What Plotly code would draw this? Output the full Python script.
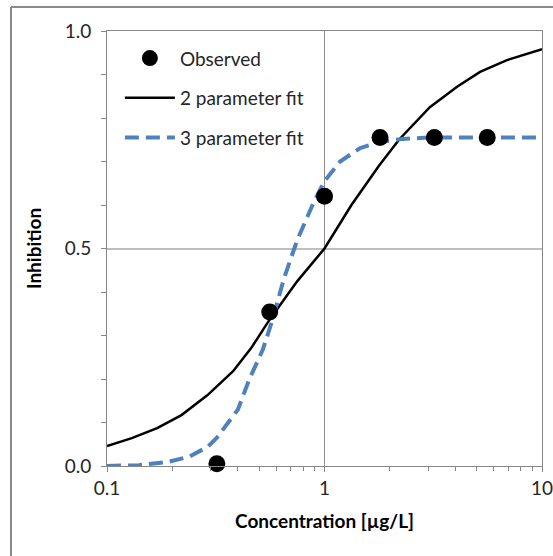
import plotly.graph_objects as go

# Observed data
obs_x = [0.32, 0.56, 1.0, 1.8, 3.2, 5.6]
obs_y = [0.005, 0.354, 0.62, 0.755, 0.755, 0.755]

# 2 parameter fit
fit2_x = [0.10, 0.13, 0.17, 0.22, 0.29, 0.38, 0.46, 0.56, 0.75, 1.0, 1.33, 1.78, 2.2, 3.05, 4.07, 5.19, 6.9, 10.0]
fit2_y = [0.046, 0.064, 0.087, 0.117, 0.163, 0.218, 0.271, 0.337, 0.425, 0.50, 0.60, 0.69, 0.75, 0.825, 0.872, 0.906, 0.933, 0.958]

# 3 parameter fit
fit3_x = [0.10, 0.14, 0.19, 0.24, 0.29, 0.32, 0.40, 0.45, 0.52, 0.58, 0.65, 0.75, 0.89, 1.0, 1.18, 1.46, 1.8, 2.3, 3.0, 5.6, 10.0]
fit3_y = [0.000, 0.002, 0.009, 0.022, 0.044, 0.065, 0.13, 0.198, 0.267, 0.34, 0.43, 0.52, 0.605, 0.655, 0.700, 0.731, 0.745, 0.752, 0.755, 0.755, 0.755]

x_ticks = [0.1, 1, 10]
x_ticktext = ["0.1", "1", "10"]
x_minor = [0.2, 0.3, 0.4, 0.5, 0.6, 0.7, 0.8, 0.9, 2, 3, 4, 5, 6, 7, 8, 9]
y_ticks = [0.0, 0.5, 1.0]
y_ticktext = ["0.0", "0.5", "1.0"]
y_minor = [0.1, 0.2, 0.3, 0.4, 0.6, 0.7, 0.8, 0.9]

FONT = "Lato"
AX = "#868686"
FS = 19

fig = go.Figure()
fig.add_trace(go.Scatter(x=fit2_x, y=fit2_y, mode="lines", name="2 parameter fit",
                         line=dict(color="black", width=2.5),
                         legendgroup="b", legendrank=2))
fig.add_trace(go.Scatter(x=fit3_x, y=fit3_y, mode="lines", name="3 parameter fit",
                         line=dict(color="#4f81bd", width=4, dash="14px,7px"),
                         legendgroup="c", legendrank=3))
fig.add_trace(go.Scatter(x=obs_x, y=obs_y, mode="markers", name="Observed",
                         marker=dict(color="black", size=17),
                         cliponaxis=False, legendgroup="a", legendrank=1))

# outer chart frame (left and top edges visible; right/bottom lie outside the picture)
px_x = lambda p: (p - 107) / 435
px_y = lambda p: (466 - p) / 435
frame = [
    dict(type="line", xref="paper", yref="paper", x0=px_x(11), x1=px_x(11), y0=px_y(7), y1=px_y(556),
         line=dict(color="#8a8a8a", width=2), layer="below"),
    dict(type="line", xref="paper", yref="paper", x0=px_x(11), x1=px_x(553), y0=px_y(7), y1=px_y(7),
         line=dict(color="#8a8a8a", width=2), layer="below"),
]

fig.update_layout(
    width=553, height=556,
    margin=dict(l=107, r=11, t=31, b=90),
    paper_bgcolor="white", plot_bgcolor="white",
    font=dict(family=FONT, size=FS, color="#262626"),
    showlegend=True,
    legend=dict(x=0.0296, y=0.981, xanchor="left", yanchor="top",
                bgcolor="rgba(0,0,0,0)", traceorder="grouped",
                tracegroupgap=12, itemwidth=50,
                font=dict(family=FONT, size=FS, color="#262626")),
    xaxis=dict(type="log", range=[-1, 1], tickvals=x_ticks, ticktext=x_ticktext,
               ticks="outside", ticklen=5, tickcolor=AX, automargin=False,
               showline=True, mirror=True, linecolor=AX, linewidth=1,
               showgrid=True, gridcolor="#8c8c8c", gridwidth=1,
               zeroline=False, ticklabeloverflow="allow",
               tickfont=dict(family=FONT, size=FS, color="#262626"),
               minor=dict(tickvals=x_minor, ticks="outside", ticklen=4, tickcolor=AX, showgrid=False),
               title=dict(text="<b>Concentration [µg/L]</b>", standoff=16,
                          font=dict(family=FONT, size=FS, color="black"))),
    yaxis=dict(range=[0, 1], tickvals=y_ticks, ticktext=y_ticktext,
               ticks="outside", ticklen=5, tickcolor=AX, automargin=False,
               showline=True, mirror=True, linecolor=AX, linewidth=1,
               showgrid=True, gridcolor="#bfbfbf", gridwidth=1.5,
               zeroline=False, ticklabelstandoff=6,
               tickfont=dict(family=FONT, size=FS, color="#262626"),
               minor=dict(tickvals=y_minor, ticks="outside", ticklen=5, tickcolor=AX, showgrid=False),
               title=dict(text="<b>Inhibition</b>", standoff=18,
                          font=dict(family=FONT, size=FS, color="black"))),
    shapes=frame,
)

fig.write_html("out.html")
